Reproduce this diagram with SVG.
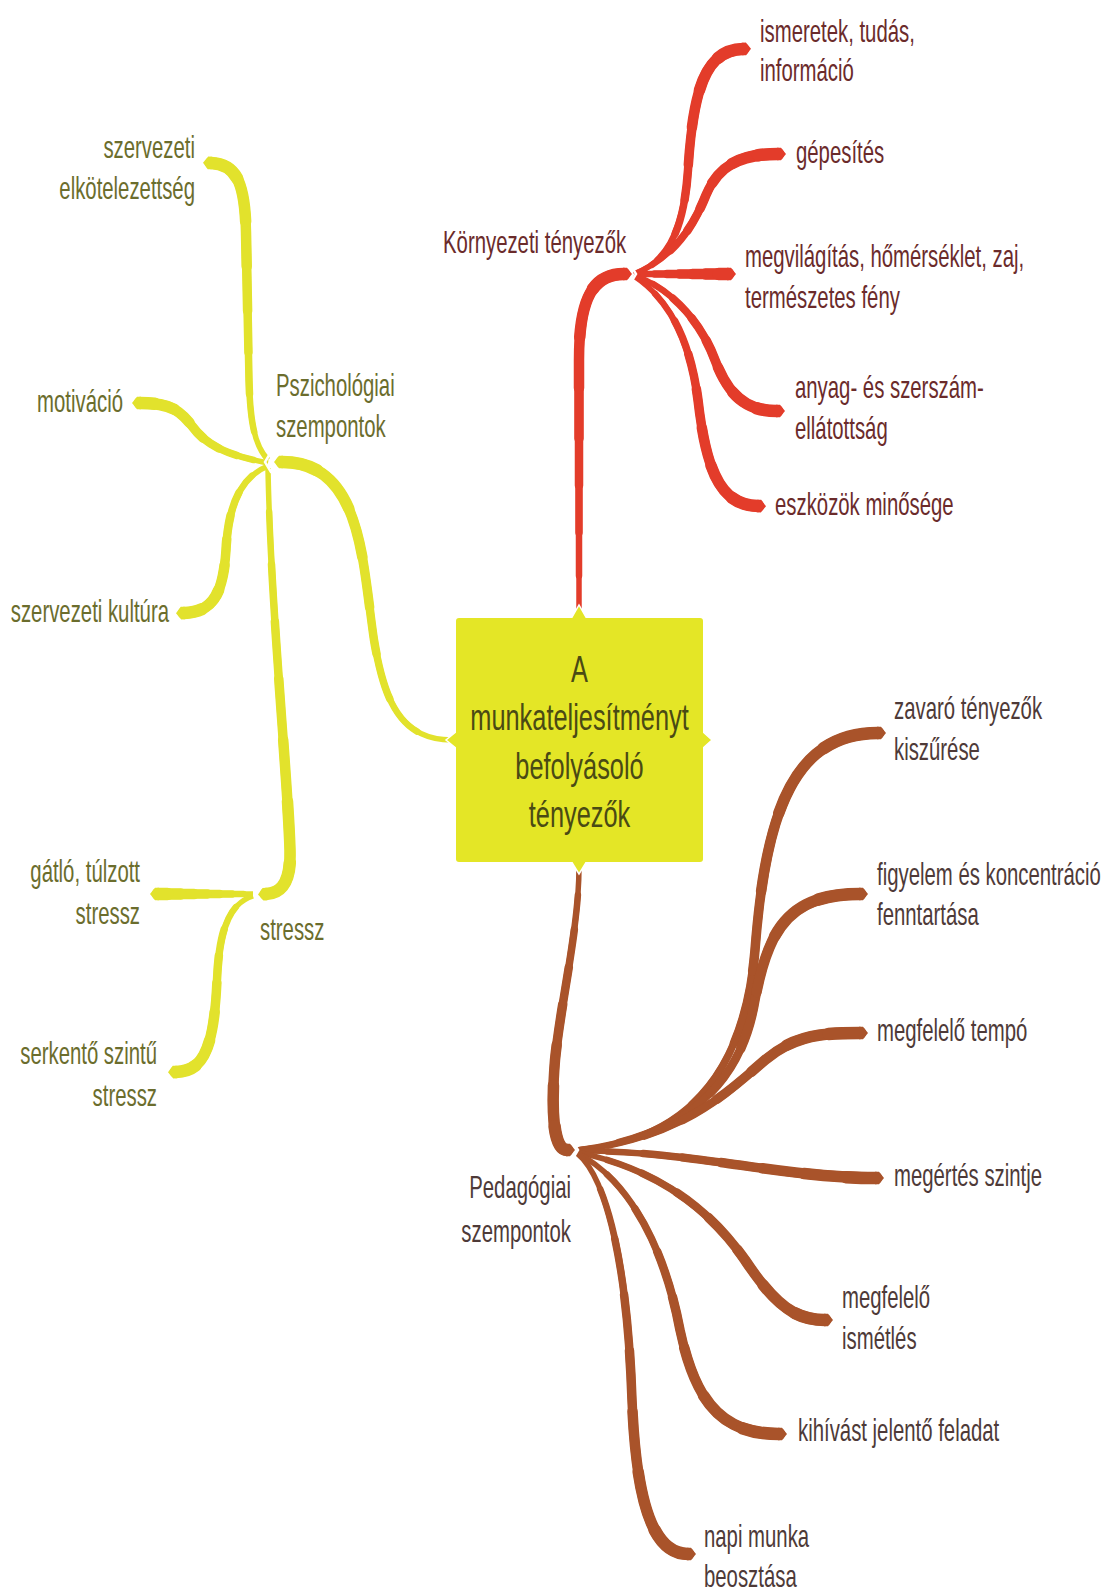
<svg xmlns="http://www.w3.org/2000/svg" xmlns:xlink="http://www.w3.org/1999/xlink" width="1104" height="1592" viewBox="0 0 1104 1592">
  <style>
    text { font-family: "Liberation Sans", Arial, sans-serif; font-size: 32px; }
    .lr { fill: #6b2b2b; }
    .lo { fill: #6b6d2d; }
    .ly { fill: #6b6d2d; text-anchor: end; }
    .lb { fill: #4e3a38; }
    .lb.end { text-anchor: end; }
    .lc { fill: #4a4a14; font-size: 36px; text-anchor: middle; }
    /* tapering: each layer is a little thicker and covers a shorter tail of the path */
    .t1 { stroke-width: 6.5; stroke-dasharray: 100 200; stroke-dashoffset: -10; }
    .t2 { stroke-width: 7.5; stroke-dasharray: 100 200; stroke-dashoffset: -22; }
    .t3 { stroke-width: 8.5; stroke-dasharray: 100 200; stroke-dashoffset: -35; }
    .t4 { stroke-width: 9.5; stroke-dasharray: 100 200; stroke-dashoffset: -48; }
    .t5 { stroke-width: 10.5; stroke-dasharray: 100 200; stroke-dashoffset: -62; }
    .t6 { stroke-width: 11.5; stroke-dasharray: 100 200; stroke-dashoffset: -76; }
    .t7 { stroke-width: 12.5; stroke-dasharray: 100 200; stroke-dashoffset: -90; }
    .notch { fill: none; stroke: #ffffff; stroke-width: 2.5; stroke-linejoin: miter; }
  </style>
  <defs>
    <marker id="tip-red" markerUnits="userSpaceOnUse" orient="auto" overflow="visible" markerWidth="12" markerHeight="14" refX="0" refY="0">
      <path d="M-1,-6.3 L3,-6.3 L8,0 L3,6.3 L-1,6.3 Z" fill="#e33c2a"/>
    </marker>
    <marker id="tip-yellow" markerUnits="userSpaceOnUse" orient="auto" overflow="visible" markerWidth="12" markerHeight="14" refX="0" refY="0">
      <path d="M-1,-6.3 L3,-6.3 L8,0 L3,6.3 L-1,6.3 Z" fill="#e2e22c"/>
    </marker>
    <marker id="tip-brown" markerUnits="userSpaceOnUse" orient="auto" overflow="visible" markerWidth="12" markerHeight="14" refX="0" refY="0">
      <path d="M-1,-6.3 L3,-6.3 L8,0 L3,6.3 L-1,6.3 Z" fill="#a9532a"/>
    </marker>
  </defs>

  <rect width="1104" height="1592" fill="#ffffff"/>

  <g id="connectors" fill="none" stroke-linejoin="round" stroke-linecap="round">
    <!-- red branch: environment -->
    <g id="branch-red" stroke="#e33c2a">
      <g stroke-width="5.5" stroke-linecap="butt" marker-end="url(#tip-red)">
        <g id="red-links">
          <path id="c-root-env" pathLength="100" d="M579,612 L579,360 C579,300 592,274 624,274"/>
          <path id="c-env-1" pathLength="100" d="M634,274 C668,262 684,230 688,170 C693,90 705,50 743,49"/>
          <path id="c-env-2" pathLength="100" d="M634,274 C672,258 692,230 706,195 C720,162 745,154 778,154"/>
          <path id="c-env-3" pathLength="100" d="M634,274 L728,274"/>
          <path id="c-env-4" pathLength="100" d="M634,275 C670,288 700,320 715,360 C730,400 750,411 777,411"/>
          <path id="c-env-5" pathLength="100" d="M634,276 C670,300 690,340 698,400 C706,470 720,505 758,506"/>
        </g>
      </g>
      <use xlink:href="#red-links" class="t1"/>
      <use xlink:href="#red-links" class="t2"/>
      <use xlink:href="#red-links" class="t3"/>
      <use xlink:href="#red-links" class="t4"/>
      <use xlink:href="#red-links" class="t5"/>
      <use xlink:href="#red-links" class="t6"/>
      <use xlink:href="#red-links" class="t7"/>
    </g>

    <!-- yellow branch: psychology -->
    <g id="branch-yellow" stroke="#e2e22c">
      <g stroke-width="5.5" stroke-linecap="butt" marker-end="url(#tip-yellow)">
        <g id="yellow-links">
          <path id="c-root-psy" pathLength="100" d="M452,740 C400,740 384,700 374,640 C362,560 362,462 282,462"/>
          <path id="c-psy-1" pathLength="100" d="M268,460 C254,445 250,420 249,380 L246,232 C245,186 238,164 211,163"/>
          <path id="c-psy-2" pathLength="100" d="M268,463 C232,456 208,448 192,426 C178,407 165,403 140,403"/>
          <path id="c-psy-3" pathLength="100" d="M268,466 C238,478 228,510 226,550 C223,596 212,612 184,613"/>
          <path id="c-psy-stress" pathLength="100" d="M268,468 C270,600 288,780 290,850 C291,882 282,893 266,894"/>
          <path id="c-stress-1" pathLength="100" d="M253,894 L158,894"/>
          <path id="c-stress-2" pathLength="100" d="M253,896 C228,904 219,932 217,980 C214,1050 203,1071 176,1072"/>
        </g>
      </g>
      <use xlink:href="#yellow-links" class="t1"/>
      <use xlink:href="#yellow-links" class="t2"/>
      <use xlink:href="#yellow-links" class="t3"/>
      <use xlink:href="#yellow-links" class="t4"/>
      <use xlink:href="#yellow-links" class="t5"/>
      <use xlink:href="#yellow-links" class="t6"/>
      <use xlink:href="#yellow-links" class="t7"/>
    </g>

    <!-- brown branch: pedagogy -->
    <g id="branch-brown" stroke="#a9532a">
      <g stroke-width="5.5" stroke-linecap="butt" marker-end="url(#tip-brown)">
        <g id="brown-links">
          <path id="c-root-ped" pathLength="100" d="M579,866 C579,930 561,1000 555,1060 C551,1110 553,1150 567,1150"/>
          <path id="c-ped-1" pathLength="100" d="M577,1150 C690,1140 745,1070 755,950 C765,820 790,733 878,733"/>
          <path id="c-ped-2" pathLength="100" d="M577,1150 C680,1136 740,1090 755,1000 C768,930 788,894 860,894"/>
          <path id="c-ped-3" pathLength="100" d="M577,1150 C680,1140 730,1090 765,1060 C795,1035 820,1033 860,1033"/>
          <path id="c-ped-4" pathLength="100" d="M577,1151 C690,1150 780,1178 876,1178"/>
          <path id="c-ped-5" pathLength="100" d="M577,1152 C660,1170 710,1210 745,1260 C775,1305 795,1320 825,1320"/>
          <path id="c-ped-6" pathLength="100" d="M577,1153 C630,1180 665,1250 680,1330 C695,1400 720,1434 779,1434"/>
          <path id="c-ped-7" pathLength="100" d="M577,1153 C610,1180 628,1280 632,1400 C636,1500 652,1554 688,1554"/>
        </g>
      </g>
      <use xlink:href="#brown-links" class="t1"/>
      <use xlink:href="#brown-links" class="t2"/>
      <use xlink:href="#brown-links" class="t3"/>
      <use xlink:href="#brown-links" class="t4"/>
      <use xlink:href="#brown-links" class="t5"/>
      <use xlink:href="#brown-links" class="t6"/>
      <use xlink:href="#brown-links" class="t7"/>
    </g>

    <!-- white cuts where a branch meets its children -->
    <polyline class="notch" points="630,264 636,274 630,284"/>
    <polyline class="notch" points="271,452 265,462 271,472"/>
    <polyline class="notch" points="261,884 255,894 261,904"/>
    <polyline class="notch" points="572,1140 578,1150 572,1160"/>
  </g>

  <!-- central topic -->
  <g id="n-root">
    <g fill="#e4e626" stroke="#ffffff" stroke-width="1.5">
      <polygon points="571,619 579,605 587,619"/>
      <polygon points="571,861 579,874 587,861"/>
      <polygon points="457,731 446,740 457,749"/>
      <polygon points="702,731 712,740 702,749"/>
    </g>
    <rect x="456" y="618" width="247" height="244" rx="3" fill="#e4e626"/>
    <text class="lc" transform="translate(579.5 682) scale(.705 1)">A</text>
    <text class="lc" transform="translate(579.5 730) scale(.705 1)">munkateljesítményt</text>
    <text class="lc" transform="translate(579.5 779) scale(.705 1)">befolyásoló</text>
    <text class="lc" transform="translate(579.5 827) scale(.705 1)">tényezők</text>
  </g>

  <!-- environment -->
  <g id="n-env"><text class="lr" transform="translate(443 253) scale(.636 1)">Környezeti tényezők</text></g>
  <g id="n-env-1">
    <text class="lr" transform="translate(760 42) scale(.636 1)">ismeretek, tudás,</text>
    <text class="lr" transform="translate(760 81) scale(.636 1)">információ</text>
  </g>
  <g id="n-env-2"><text class="lr" transform="translate(796 163) scale(.636 1)">gépesítés</text></g>
  <g id="n-env-3">
    <text class="lr" transform="translate(745 267) scale(.636 1)">megvilágítás, hőmérséklet, zaj,</text>
    <text class="lr" transform="translate(745 308) scale(.636 1)">természetes fény</text>
  </g>
  <g id="n-env-4">
    <text class="lr" transform="translate(795 398) scale(.636 1)">anyag- és szerszám-</text>
    <text class="lr" transform="translate(795 439) scale(.636 1)">ellátottság</text>
  </g>
  <g id="n-env-5"><text class="lr" transform="translate(775 515) scale(.636 1)">eszközök minősége</text></g>

  <!-- psychology -->
  <g id="n-psy">
    <text class="lo" transform="translate(276 396) scale(.636 1)">Pszichológiai</text>
    <text class="lo" transform="translate(276 437) scale(.636 1)">szempontok</text>
  </g>
  <g id="n-psy-1">
    <text class="ly" transform="translate(195 158) scale(.636 1)">szervezeti</text>
    <text class="ly" transform="translate(195 199) scale(.636 1)">elkötelezettség</text>
  </g>
  <g id="n-psy-2"><text class="ly" transform="translate(123 412) scale(.636 1)">motiváció</text></g>
  <g id="n-psy-3"><text class="ly" transform="translate(169 622) scale(.636 1)">szervezeti kultúra</text></g>
  <g id="n-stress"><text class="lo" transform="translate(260 940) scale(.636 1)">stressz</text></g>
  <g id="n-stress-1">
    <text class="ly" transform="translate(140 882) scale(.636 1)">gátló, túlzott</text>
    <text class="ly" transform="translate(140 924) scale(.636 1)">stressz</text>
  </g>
  <g id="n-stress-2">
    <text class="ly" transform="translate(157 1064) scale(.636 1)">serkentő szintű</text>
    <text class="ly" transform="translate(157 1106) scale(.636 1)">stressz</text>
  </g>

  <!-- pedagogy -->
  <g id="n-ped">
    <text class="lb end" transform="translate(571 1198) scale(.636 1)">Pedagógiai</text>
    <text class="lb end" transform="translate(571 1242) scale(.636 1)">szempontok</text>
  </g>
  <g id="n-ped-1">
    <text class="lb" transform="translate(894 719) scale(.636 1)">zavaró tényezők</text>
    <text class="lb" transform="translate(894 760) scale(.636 1)">kiszűrése</text>
  </g>
  <g id="n-ped-2">
    <text class="lb" transform="translate(877 885) scale(.636 1)">figyelem és koncentráció</text>
    <text class="lb" transform="translate(877 925) scale(.636 1)">fenntartása</text>
  </g>
  <g id="n-ped-3"><text class="lb" transform="translate(877 1041) scale(.636 1)">megfelelő tempó</text></g>
  <g id="n-ped-4"><text class="lb" transform="translate(894 1186) scale(.636 1)">megértés szintje</text></g>
  <g id="n-ped-5">
    <text class="lb" transform="translate(842 1308) scale(.636 1)">megfelelő</text>
    <text class="lb" transform="translate(842 1349) scale(.636 1)">ismétlés</text>
  </g>
  <g id="n-ped-6"><text class="lb" transform="translate(798 1441) scale(.636 1)">kihívást jelentő feladat</text></g>
  <g id="n-ped-7">
    <text class="lb" transform="translate(704 1547) scale(.636 1)">napi munka</text>
    <text class="lb" transform="translate(704 1587) scale(.636 1)">beosztása</text>
  </g>
</svg>
